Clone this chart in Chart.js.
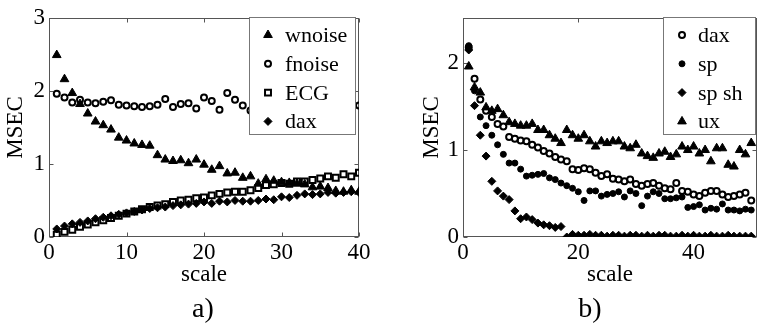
<!DOCTYPE html>
<html>
<head>
<meta charset="utf-8">
<script src="https://cdn.jsdelivr.net/npm/chart.js@4.4.0/dist/chart.umd.min.js"></script>
<style>
  body { margin: 0; background: #fff; }
  #wrap { position: relative; width: 763px; height: 327px; font-family: 'Liberation Serif', 'Times New Roman', serif; }
  .pane { position: absolute; top: 0; height: 295px; }
  .tag { position: absolute; top: 293px; width: 60px; text-align: center; font-size: 28px; line-height: 30px; }
</style>
</head>
<body>
<div id="wrap">
  <div class="pane" style="left:0; width:380px;"><canvas id="chartA"></canvas></div>
  <div class="pane" style="left:380px; width:383px;"><canvas id="chartB"></canvas></div>
  <div class="tag" style="left:173px;">a)</div>
  <div class="tag" style="left:560px;">b)</div>
</div>
<script>
// ---- data, panel a ----
const scaleA = [1,2,3,4,5,6,7,8,9,10,11,12,13,14,15,16,17,18,19,20,
                21,22,23,24,25,26,27,28,29,30,31,32,33,34,35,36,37,38,39,40];
const wnoise = [2.49,2.16,1.97,1.82,1.69,1.58,1.53,1.47,1.36,1.32,1.28,1.26,1.25,1.12,1.06,1.04,1.05,1.01,1.06,0.99,
                0.92,0.97,0.87,0.88,0.81,0.83,0.73,0.79,0.77,0.75,0.74,0.73,0.72,0.68,0.69,0.67,0.63,0.62,0.64,0.62];
const fnoise = [1.96,1.91,1.84,1.88,1.84,1.83,1.85,1.87,1.81,1.80,1.79,1.78,1.79,1.81,1.89,1.78,1.82,1.83,1.76,1.91,
                1.86,1.74,1.97,1.88,1.80,1.73,1.84,1.79,1.83,1.88,1.80,1.77,1.85,1.82,1.79,1.86,1.81,1.78,1.83,1.80];
const ecg    = [0.03,0.07,0.10,0.14,0.17,0.20,0.23,0.26,0.29,0.32,0.35,0.38,0.41,0.43,0.45,0.48,0.50,0.51,0.53,0.54,
                0.57,0.59,0.61,0.62,0.62,0.64,0.67,0.71,0.72,0.74,0.73,0.76,0.76,0.78,0.80,0.83,0.81,0.86,0.83,0.88];
const daxA   = [0.11,0.15,0.18,0.20,0.22,0.25,0.27,0.29,0.31,0.33,0.35,0.37,0.39,0.40,0.41,0.43,0.44,0.45,0.46,0.48,
                0.46,0.49,0.48,0.50,0.49,0.49,0.50,0.52,0.51,0.55,0.54,0.57,0.59,0.58,0.59,0.61,0.60,0.61,0.62,0.61];
const xTicksA = [0, 10, 20, 30, 40];
const yTicksA = [0, 1, 2, 3];

// ---- data, panel b ----
const scaleB = [1,2,3,4,5,6,7,8,9,10,11,12,13,14,15,16,17,18,19,20,21,22,23,24,25,
                26,27,28,29,30,31,32,33,34,35,36,37,38,39,40,41,42,43,44,45,46,47,48,49,50];
const daxB = [2.18,1.82,1.58,1.45,1.38,1.30,1.27,1.15,1.13,1.11,1.10,1.06,1.03,0.99,0.96,0.92,0.89,0.87,0.78,0.77,
              0.79,0.78,0.74,0.70,0.72,0.67,0.66,0.64,0.66,0.61,0.59,0.61,0.62,0.59,0.56,0.55,0.62,0.53,0.52,0.49,
              0.47,0.51,0.53,0.53,0.49,0.46,0.47,0.49,0.51,0.42];
const sp   = [2.20,1.68,1.38,1.28,1.17,1.06,0.95,0.85,0.85,0.78,0.70,0.71,0.72,0.73,0.68,0.66,0.62,0.59,0.56,0.52,
              0.42,0.53,0.53,0.47,0.49,0.50,0.52,0.46,0.53,0.50,0.36,0.47,0.52,0.50,0.44,0.44,0.45,0.46,0.34,0.35,
              0.37,0.31,0.33,0.32,0.38,0.31,0.31,0.30,0.32,0.31];
const spsh = [2.15,1.51,1.17,0.93,0.64,0.53,0.47,0.43,0.30,0.21,0.23,0.20,0.16,0.14,0.13,0.11,0.12,0.00,0.03,0.02,
              0.02,0.03,0.02,0.02,0.01,0.02,0.02,0.01,0.02,0.02,0.01,0.02,0.01,0.02,0.02,0.01,0.01,0.02,0.01,0.02,
              0.01,0.01,0.02,0.01,0.01,0.02,0.01,0.01,0.01,0.01];
const ux   = [1.96,1.72,1.66,1.49,1.45,1.47,1.40,1.32,1.30,1.28,1.28,1.30,1.23,1.23,1.17,1.13,1.08,1.23,1.17,1.13,
              1.17,1.10,1.04,1.10,1.08,1.10,1.10,1.04,1.02,1.06,0.96,0.93,0.91,0.96,0.98,0.92,0.95,1.04,1.00,1.04,
              0.96,1.00,0.87,1.02,1.02,0.83,0.81,1.00,0.95,1.08];
const xTicksB = [0, 20, 40];
const yTicksB = [0, 1, 2];

const FONT = "'Liberation Serif', 'Times New Roman', serif";

function pts(xs, ys) {
  return xs.map((x, i) => ({x: x, y: ys[i]}));
}

// marker styles
const mk = {
  tri:   {pointStyle: 'triangle', pointRadius: 5,   pointBorderWidth: 1, pointBackgroundColor: '#000'},
  ring:  {pointStyle: 'circle',   pointRadius: 3,   pointBorderWidth: 2, pointBackgroundColor: 'rgba(0,0,0,0)'},
  sq:    {pointStyle: 'rect',     pointRadius: 4.2, pointBorderWidth: 2, pointBackgroundColor: 'rgba(0,0,0,0)'},
  dia:   {pointStyle: 'rectRot',  pointRadius: 4,   pointBorderWidth: 1, pointBackgroundColor: '#000'},
  dot:   {pointStyle: 'circle',   pointRadius: 3,   pointBorderWidth: 1, pointBackgroundColor: '#000'}
};

function ds(label, xs, ys, style) {
  return Object.assign({
    label: label,
    data: pts(xs, ys),
    showLine: false,
    borderColor: '#000',
    pointBorderColor: '#000',
    pointHoverRadius: 0
  }, style);
}

// box round the plot with inward ticks on every side
const frame = {
  id: 'frame',
  beforeDatasetsDraw(chart) {
    const {ctx, chartArea: a, scales} = chart;
    const l = Math.round(a.left) + 0.5, r = Math.round(a.right) - 0.5;
    const t = Math.round(a.top) + 0.5, b = Math.round(a.bottom) - 0.5;
    ctx.save();
    ctx.strokeStyle = '#555';
    ctx.lineWidth = 1;
    ctx.strokeRect(l, t, r - l, b - t);
    ctx.beginPath();
    scales.x.ticks.forEach(tk => {
      const px = Math.round(scales.x.getPixelForValue(tk.value)) + 0.5;
      ctx.moveTo(px, b); ctx.lineTo(px, b - 4);
      ctx.moveTo(px, t); ctx.lineTo(px, t + 4);
    });
    scales.y.ticks.forEach(tk => {
      const py = Math.round(scales.y.getPixelForValue(tk.value)) + 0.5;
      ctx.moveTo(l, py); ctx.lineTo(l + 4, py);
      ctx.moveTo(r, py); ctx.lineTo(r - 4, py);
    });
    ctx.stroke();
    ctx.restore();
  }
};

// legend box inside the plot, over the markers
const boxLegend = {
  id: 'boxLegend',
  afterDatasetsDraw(chart, args, o) {
    const ctx = chart.ctx;
    ctx.save();
    ctx.fillStyle = '#fff';
    ctx.fillRect(o.left, o.top, o.width, o.height);
    ctx.strokeStyle = '#777';
    ctx.lineWidth = 1;
    ctx.strokeRect(o.left + 0.5, o.top + 0.5, o.width, o.height);
    ctx.font = '22px ' + FONT;
    ctx.textBaseline = 'alphabetic';
    chart.data.datasets.forEach((d, i) => {
      const cy = o.top + o.first + i * o.step;
      ctx.fillStyle = d.pointBackgroundColor === '#000' ? '#000' : '#fff';
      ctx.strokeStyle = '#000';
      ctx.lineWidth = d.pointBorderWidth;
      Chart.helpers.drawPoint(ctx, {pointStyle: d.pointStyle, radius: d.pointRadius, borderWidth: d.pointBorderWidth, rotation: 0}, o.markX, cy);
      ctx.fillStyle = '#000';
      ctx.fillText(d.label, o.textX, cy + 7);
    });
    ctx.restore();
  }
};

function axes(xmax, xt, ymax, yt, yw, yTitlePad) {
  return {
    x: {
      type: 'linear', min: 0, max: xmax,
      grid: {display: false, drawTicks: false},
      border: {display: false},
      afterBuildTicks: s => { s.ticks = xt.map(v => ({value: v})); },
      afterFit: s => { s.height = 58; },
      ticks: {color: '#000', padding: 2, font: {family: FONT, size: 23}, includeBounds: false, maxRotation: 0},
      title: {display: true, text: 'scale', color: '#000', font: {family: FONT, size: 23}, padding: {top: 0, bottom: 6}}
    },
    y: {
      type: 'linear', min: 0, max: ymax,
      grid: {display: false, drawTicks: false},
      border: {display: false},
      afterBuildTicks: s => { s.ticks = yt.map(v => ({value: v})); },
      afterFit: s => { s.width = yw; },
      ticks: {color: '#000', padding: 4, font: {family: FONT, size: 23}, includeBounds: false},
      title: {display: true, text: 'MSEC', color: '#000', font: {family: FONT, size: 23}, padding: {top: yTitlePad, bottom: 0}}
    }
  };
}

const common = {
  responsive: true,
  maintainAspectRatio: false,
  animation: false,
  events: [],
  plugins: {legend: {display: false}, tooltip: {enabled: false}}
};

new Chart(document.getElementById('chartA'), {
  type: 'scatter',
  data: {
    datasets: [
      ds('wnoise', scaleA, wnoise, mk.tri),
      ds('fnoise', scaleA, fnoise, mk.ring),
      ds('ECG', scaleA, ecg, mk.sq),
      ds('dax', scaleA, daxA, mk.dia)
    ]
  },
  options: Object.assign({}, common, {
    layout: {padding: {top: 15, right: 21, left: 0, bottom: 0}},
    scales: axes(40, xTicksA, 3, yTicksA, 49, 2),
    plugins: Object.assign({}, common.plugins, {
      boxLegend: {left: 249, top: 17, width: 106, height: 117, first: 18, step: 28.8, markX: 268, textX: 285}
    })
  }),
  plugins: [frame, boxLegend]
});

new Chart(document.getElementById('chartB'), {
  type: 'scatter',
  data: {
    datasets: [
      ds('dax', scaleB, daxB, mk.ring),
      ds('sp', scaleB, sp, mk.dot),
      ds('sp sh', scaleB, spsh, mk.dia),
      ds('ux', scaleB, ux, mk.tri)
    ]
  },
  options: Object.assign({}, common, {
    layout: {padding: {top: 14, right: 4, left: 0, bottom: 0}},
    scales: axes(51, xTicksB, 2.52, yTicksB, 83, 38),
    plugins: Object.assign({}, common.plugins, {
      boxLegend: {left: 283, top: 17, width: 92, height: 117, first: 18, step: 28.8, markX: 302, textX: 318}
    })
  }),
  plugins: [frame, boxLegend]
});
</script>
</body>
</html>
